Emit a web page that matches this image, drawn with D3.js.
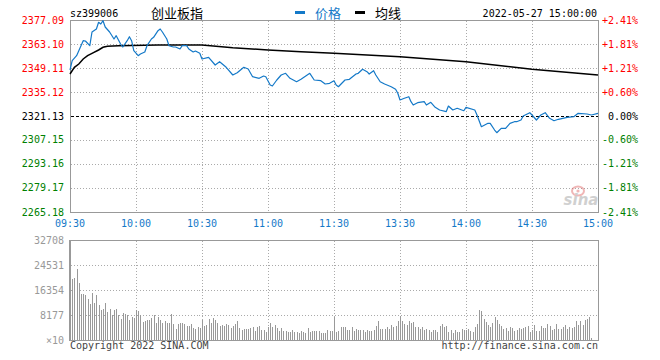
<!DOCTYPE html>
<html><head><meta charset="utf-8">
<script src="https://cdn.jsdelivr.net/npm/d3@7"></script>
<style>
body{margin:0;background:#fff}
svg text{font-family:"DejaVu Sans Mono",monospace;font-size:10px}
</style></head>
<body><svg id="c" width="660" height="360"></svg>
<script>
const code = "sz399006";
const title = "创业板指";
const dateText = "2022-05-27 15:00:00";
const timeLabels = ["09:30","10:00","10:30","11:00","11:30","13:30","14:00","14:30","15:00"];
const timeTickMinutes = [0,30,60,90,120,150,180,210,240];
const priceTicks = [2377.09,2363.10,2349.11,2335.12,2321.13,2307.15,2293.16,2279.17,2265.18];
const pctTicks = ["+2.41%","+1.81%","+1.21%","+0.60%","0.00%","-0.60%","-1.21%","-1.81%","-2.41%"];
const volTicks = [32708,24531,16354,8177];
const prevClose = 2321.13;

const priceMin = [0,1,3,4,6,7,9,10,12,13,14,15,16,18,20,21,23,24,26,27,28,29,31,32,34,35,37,38,40,41,42,44,45,47,48,50,51,53,54,56,57,59,60,63,66,68,71,74,76,79,81,83,86,88,89,91,92,94,96,98,100,103,105,109,111,114,116,118,120,121,122,125,127,130,131,133,135,136,138,139,141,143,146,148,149,150,152,154,155,156,158,161,162,164,166,168,171,172,174,176,179,180,184,185,187,190,191,193,194,196,198,200,202,203,205,206,209,210,212,214,216,218,220,222,224,226,229,231,235,237,240];
const priceVal = [2347.94,2353.37,2356.28,2359.19,2365.02,2364.85,2362.11,2370.09,2371.84,2375.75,2374.76,2376.68,2373.01,2370.09,2366.01,2367.94,2363.10,2361.35,2365.02,2367.36,2365.02,2359.19,2356.28,2357.27,2358.44,2362.11,2366.01,2367.01,2370.85,2371.84,2370.09,2366.01,2362.11,2361.35,2361.35,2360.19,2362.11,2362.11,2360.19,2358.44,2359.02,2357.68,2354.36,2355.35,2350.86,2352.78,2349.52,2345.03,2346.37,2349.52,2348.53,2344.04,2343.11,2344.45,2344.04,2339.20,2338.62,2342.12,2345.03,2346.02,2343.11,2341.12,2342.52,2346.02,2342.12,2341.71,2339.78,2340.19,2341.71,2339.20,2338.21,2342.12,2342.52,2345.61,2346.02,2348.35,2346.95,2345.61,2347.54,2345.03,2341.12,2339.78,2338.21,2336.69,2334.36,2330.46,2331.45,2332.38,2329.47,2327.54,2328.88,2329.47,2327.54,2329.12,2326.20,2324.63,2323.64,2326.96,2324.63,2325.62,2324.22,2326.20,2324.63,2321.71,2314.89,2316.87,2316.87,2312.97,2311.40,2313.96,2313.96,2316.87,2317.81,2317.81,2318.80,2321.13,2323.05,2321.71,2318.80,2321.71,2323.05,2319.79,2318.39,2319.21,2319.79,2320.37,2320.72,2322.70,2322.30,2321.71,2322.70];

const avgMin = [0,2,4,6,8,10,13,15,17,22,40,60,74,90,105,120,150,180,210,240];
const avgVal = [2345.61,2349.52,2351.44,2354.36,2356.28,2357.68,2359.60,2361.18,2361.76,2362.11,2362.52,2362.52,2360.94,2359.60,2358.61,2357.68,2355.70,2352.78,2348.35,2345.03];

const volAM = [20056,20274,23217,18639,15042,15042,14606,13407,11772,15369,
12099,14606,11554,9919,10246,12099,9156,10137,8066,9701,
10137,8066,6867,8829,8393,8066,6540,7412,7194,9810,
9483,8066,5886,6322,6540,6540,7194,8066,5559,7521,
6431,5559,6104,5559,5559,8502,5232,3597,5232,5559,
5559,5232,4578,4578,5232,3924,3597,4251,3924,6540,
4578,4905,6867,5559,7194,6540,5559,4578,4905,4578,
5232,4905,3924,4578,5232,6213,3924,3270,3597,3597,
3597,3924,4251,2943,4251,4578,3270,3270,2616,4251,
5559,4251,4905,3924,2943,3924,2943,2943,2616,2616,
3270,2616,2616,2289,2943,2616,2289,3924,2616,2943,
2943,2943,2943,2289,2289,2289,3270,2943,2943];
const volPM = [7630,2616,2943,4251,4251,4251,3270,3270,4251,2943,
3597,3270,3270,3270,2616,3270,2943,2943,3270,4578,
6213,3597,3597,3597,4251,3597,4905,4251,4578,6213,
7848,6213,5232,4905,6213,5559,5886,4251,4251,3597,
4251,3270,3597,3270,2616,3270,3270,2616,4578,5232,
4251,4578,2616,3270,2289,3270,2616,2616,3597,3270,
3270,3597,2943,2616,4251,5232,9810,9483,6867,5886,
4905,4251,5559,7521,6540,5232,4578,3597,3924,2943,
4251,3924,2943,3270,3924,3597,3924,4251,4578,2616,
3270,4905,2943,2943,4578,3924,3924,5232,4578,3270,
3597,5232,3597,3597,4251,4905,3597,4251,3924,4251,
6213,4905,6213,4905,6540,6867,7521,763];

const svg = d3.select("#c");
const L=70,R=598,T=20,B=212,VT=240,VB=340;
const blue="#1479c8", red="#ff0000", green="#008000", gridC="#aaaaaa", borderC="#999999";

const x = d3.scaleLinear().domain([0,240]).range([L,R]);
const y = d3.scaleLinear().domain([priceTicks[priceTicks.length-1], priceTicks[0]]).range([B,T]);
const yv = d3.scaleLinear().domain([0, volTicks[0]]).range([VB,VT]);

const g = svg.append("g");
// grids main
const grid = g.append("g").attr("transform","translate(0.5,0.5)").attr("shape-rendering","crispEdges");
priceTicks.forEach(p=>{
  if (p===priceTicks[0]||p===priceTicks[priceTicks.length-1]||p===prevClose) return;
  grid.append("line").attr("x1",L).attr("x2",R).attr("y1",Math.round(y(p))).attr("y2",Math.round(y(p)))
    .attr("stroke",gridC).attr("stroke-dasharray","1,2");
});
timeTickMinutes.slice(1,-1).forEach(m=>{
  grid.append("line").attr("x1",Math.round(x(m))).attr("x2",Math.round(x(m))).attr("y1",T).attr("y2",B)
    .attr("stroke",gridC).attr("stroke-dasharray","1,2");
  grid.append("line").attr("x1",Math.round(x(m))).attr("x2",Math.round(x(m))).attr("y1",VT).attr("y2",VB)
    .attr("stroke",gridC).attr("stroke-dasharray","1,2");
});
volTicks.slice(1).forEach(v=>{
  grid.append("line").attr("x1",L).attr("x2",R).attr("y1",Math.round(yv(v))).attr("y2",Math.round(yv(v)))
    .attr("stroke",gridC).attr("stroke-dasharray","1,2");
});
// prev close dashed
grid.append("line").attr("x1",L).attr("x2",R).attr("y1",Math.round(y(prevClose))).attr("y2",Math.round(y(prevClose)))
  .attr("stroke","#000").attr("stroke-dasharray","3,2");

// volume bars
const bars = g.append("g").attr("shape-rendering","crispEdges").attr("fill","#999999");
const volData = volAM.map((v,i)=>({m:i+1,v})).concat(volPM.map((v,i)=>({m:120+i,v})));
bars.selectAll("rect").data(volData).enter().append("rect")
  .attr("x",d=>Math.round(x(d.m)))
  .attr("width",1)
  .attr("y",d=>Math.round(yv(d.v)))
  .attr("height",d=>VB-Math.round(yv(d.v)));

// borders
const bord = g.append("g").attr("transform","translate(0.5,0.5)").attr("shape-rendering","crispEdges");
bord.append("rect").attr("x",L).attr("y",T).attr("width",R-L).attr("height",B-T).attr("fill","none").attr("stroke",borderC);
bord.append("rect").attr("x",L).attr("y",VT).attr("width",R-L).attr("height",VB-VT).attr("fill","none").attr("stroke",borderC);
g.append("rect").attr("x",L-1).attr("y",VT).attr("width",2).attr("height",VB-VT+1).attr("fill",borderC);

// watermark
const wm = g.append("g").attr("opacity",0.45);
wm.append("ellipse").attr("cx",578).attr("cy",191).attr("rx",6).attr("ry",4.5).attr("fill","none").attr("stroke","#e06060").attr("stroke-width",2);
wm.append("circle").attr("cx",578).attr("cy",191).attr("r",1.6).attr("fill","#e06060");
wm.append("text").attr("x",581).attr("y",205).attr("text-anchor","middle")
  .style("font-family","'DejaVu Sans',sans-serif").style("font-size","15px").style("font-weight","bold").style("font-style","italic")
  .attr("fill","#999").text("sina");

// lines
const line = d3.line().x(d=>x(d[0])).y(d=>y(d[1]));
g.append("path").datum(avgMin.map((m,i)=>[m,avgVal[i]])).attr("d",line)
  .attr("fill","none").attr("stroke","#000").attr("stroke-width",1.5);
g.append("path").datum(priceMin.map((m,i)=>[m,priceVal[i]])).attr("d",line)
  .attr("fill","none").attr("stroke",blue).attr("stroke-width",1.2).attr("stroke-linejoin","round");

// price labels
const colorFor = p => p>prevClose+1e-6?red:(p<prevClose-1e-6?green:"#000");
priceTicks.forEach((p,i)=>{
  g.append("text").attr("x",64).attr("y",y(p)).attr("dy","0.35em").attr("text-anchor","end")
    .attr("fill",colorFor(p)).text(p.toFixed(2));
  g.append("text").attr("x",638).attr("y",y(p)).attr("dy","0.35em").attr("text-anchor","end")
    .attr("fill",colorFor(p)).text(pctTicks[i]);
});
// time labels
timeTickMinutes.forEach((m,i)=>{
  g.append("text").attr("x",x(m)).attr("y",227).attr("text-anchor","middle").attr("fill",blue).text(timeLabels[i]);
});
// volume labels
volTicks.forEach(v=>{
  g.append("text").attr("x",64).attr("y",yv(v)).attr("dy","0.35em").attr("text-anchor","end").attr("fill","#999").text(v);
});
g.append("text").attr("x",64).attr("y",yv(0)).attr("dy","0.35em").attr("text-anchor","end").attr("fill","#999").text("×10");

// footer
g.append("text").attr("x",L).attr("y",349).attr("fill","#444").text("Copyright 2022 SINA.COM");
g.append("text").attr("x",R).attr("y",349).attr("text-anchor","end").attr("fill","#444").text("http://finance.sina.com.cn");

// header
g.append("text").attr("x",L).attr("y",16.5).attr("fill","#000").text(code);
const cjk = "'Noto Sans CJK SC',sans-serif";
g.append("text").attr("x",177).attr("y",17.5).attr("text-anchor","middle").style("font-family",cjk).style("font-size","13px").attr("fill","#000").text(title);
g.append("rect").attr("x",295).attr("y",11).attr("width",10).attr("height",3).attr("fill",blue);
g.append("text").attr("x",315).attr("y",17.5).style("font-family",cjk).style("font-size","13px").attr("fill",blue).text("价格");
g.append("rect").attr("x",355).attr("y",11).attr("width",10).attr("height",3).attr("fill","#000");
g.append("text").attr("x",375).attr("y",17.5).style("font-family",cjk).style("font-size","13px").attr("fill","#000").text("均线");
g.append("text").attr("x",597).attr("y",16.5).attr("text-anchor","end").attr("fill","#000").text(dateText);
</script></body></html>
